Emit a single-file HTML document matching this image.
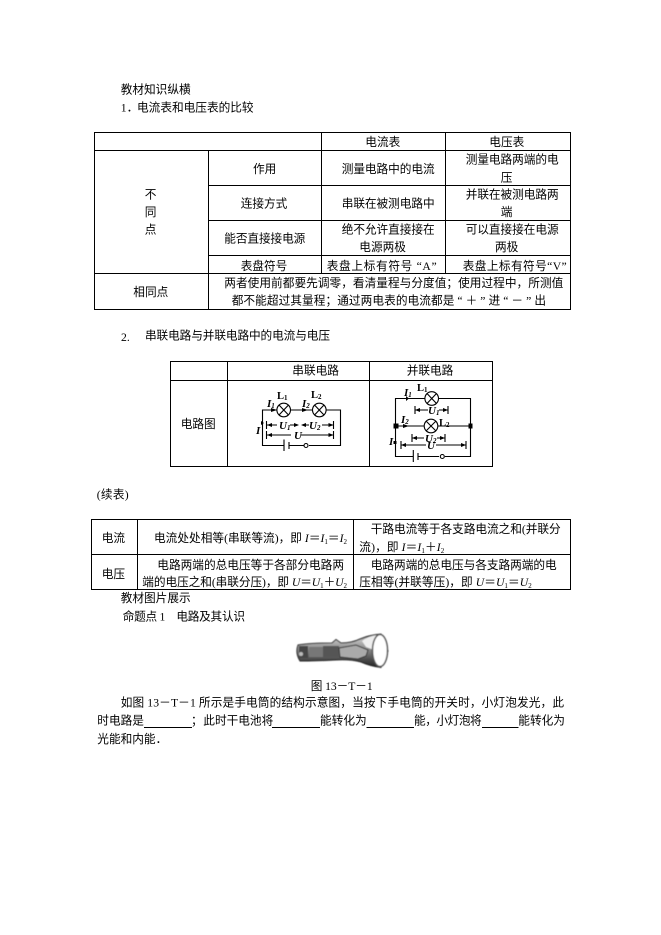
<!DOCTYPE html>
<html lang="zh">
<head>
<meta charset="utf-8">
<style>
html,body{margin:0;padding:0;background:#fff}
svg{display:block}
text{font-family:"Liberation Serif","WenQuanYi Zen Hei","Noto Sans CJK SC",sans-serif;font-size:11.67px;fill:#000}
.i{font-style:italic}
.s{font-size:7px}
.b{font-weight:bold;font-size:10.5px}
.n{font-size:11px;font-style:italic;font-weight:bold}
.t line,.t rect{stroke:#000;stroke-width:1;fill:none;shape-rendering:crispEdges}
.c line,.c path,.c rect{stroke:#000;stroke-width:1.1;fill:none}
.c circle{stroke:#000;stroke-width:1.1;fill:#fff}
.f{fill:#000}
</style>
</head>
<body>
<svg xmlns="http://www.w3.org/2000/svg" width="661" height="935" viewBox="0 0 661 935">
<defs>
<filter id="bl"><feGaussianBlur stdDeviation="0.55"/></filter>
<linearGradient id="body" x1="0" y1="0" x2="0" y2="1">
<stop offset="0" stop-color="#555"/><stop offset=".2" stop-color="#bbb"/><stop offset=".55" stop-color="#777"/><stop offset=".8" stop-color="#444"/><stop offset="1" stop-color="#222"/>
</linearGradient>
</defs>

<text x="120.7" y="93.5">教材知识纵横</text>
<text x="120.7" y="111.5">1</text><text x="128" y="111.5" font-weight="bold">.</text>
<text x="137" y="111.5">电流表和电压表的比较</text>

<g class="t">
<rect x="94.5" y="132.5" width="476" height="177"/>
<line x1="94" y1="150.5" x2="571" y2="150.5"/>
<line x1="208.5" y1="185.5" x2="571" y2="185.5"/>
<line x1="208.5" y1="220.5" x2="571" y2="220.5"/>
<line x1="208.5" y1="255.5" x2="571" y2="255.5"/>
<line x1="94" y1="273.5" x2="571" y2="273.5"/>
<line x1="208.5" y1="150" x2="208.5" y2="309"/>
<line x1="321.5" y1="132" x2="321.5" y2="273"/>
<line x1="445.5" y1="132" x2="445.5" y2="273"/>
</g>
<text x="365.3" y="146">电流表</text>
<text x="489.3" y="146">电压表</text>
<text x="253" y="173">作用</text>
<text x="341.7" y="173" textLength="93">测量电路中的电流</text>
<text x="465.7" y="163.5" textLength="93">测量电路两端的电</text>
<text x="500.7" y="181.5">压</text>
<text x="144.7" y="198.5">不</text>
<text x="144.7" y="216">同</text>
<text x="144.7" y="233.5">点</text>
<text x="240.7" y="207.5">连接方式</text>
<text x="341.7" y="207.5" textLength="93">串联在被测电路中</text>
<text x="465.7" y="198.5" textLength="93">并联在被测电路两</text>
<text x="500.7" y="216">端</text>
<text x="224.3" y="242.5" textLength="81">能否直接接电源</text>
<text x="341.7" y="233.5" textLength="93">绝不允许直接接在</text>
<text x="359.3" y="251">电源两极</text>
<text x="465.7" y="233.5" textLength="93">可以直接接在电源</text>
<text x="495" y="251">两极</text>
<text x="240.7" y="270">表盘符号</text>
<text x="326.7" y="270" textLength="110">表盘上标有符号 “A”</text>
<text x="462.7" y="270" textLength="104">表盘上标有符号“V”</text>
<text x="133.3" y="296">相同点</text>
<text x="224.3" y="286.8" textLength="339">两者使用前都要先调零，看清量程与分度值；使用过程中，所测值</text>
<text x="231.7" y="304.5" textLength="314.3">都不能超过其量程；通过两电表的电流都是 “ ＋ ” 进 “ － ” 出</text>

<text x="121" y="341">2.</text>
<text x="145" y="339.5" textLength="185">串联电路与并联电路中的电流与电压</text>

<g class="t">
<rect x="170.5" y="361.5" width="322" height="105"/>
<line x1="170" y1="380.5" x2="493" y2="380.5"/>
<line x1="227.5" y1="361" x2="227.5" y2="467"/>
<line x1="369.5" y1="361" x2="369.5" y2="467"/>
</g>
<text x="292.3" y="374.5">串联电路</text>
<text x="406.7" y="374.5">并联电路</text>
<text x="180.7" y="428">电路图</text>

<!-- series circuit -->
<g class="c">
<path d="M277 410H262.5V445.5H284M289 445.5H304M309 445.5H340.5V410H326M290.5 410H312.5"/>
<line x1="284" y1="439.5" x2="284" y2="451"/>
<line x1="289" y1="442" x2="289" y2="449"/>
<circle cx="283.7" cy="410" r="6.8"/>
<line x1="279" y1="405" x2="288.5" y2="415"/><line x1="288.5" y1="405" x2="279" y2="415"/>
<circle cx="319.3" cy="410" r="6.8"/>
<line x1="314.5" y1="405" x2="324" y2="415"/><line x1="324" y1="405" x2="314.5" y2="415"/>
<circle cx="306" cy="445.5" r="2"/>
<path d="M266.5 421V429M333.5 421V429M266.500 431V439M333.500 431V439"/>
<path d="M266.500 425H277M290 425H298M302 425H309M322 425H333.500M266.500 435H291M301 435H333.500"/>
</g>
<path class="f" d="M271 408l6 2-6 2zM302 408l6 2-6 2zM267 425l5-2v4zM299 425l-5-2v4zM301 425l5-2v4zM333.500 425l-5-2v4zM267 435l5-2v4zM333.500 435l-5-2v4zM261 421l3 2-3 2z"/>
<text class="n" x="267" y="407">I<tspan class="s" dy="1">1</tspan></text>
<text class="b" x="277" y="399">L<tspan class="s" dy="1">1</tspan></text>
<text class="n" x="302" y="407">I<tspan class="s" dy="1">2</tspan></text>
<text class="b" x="311" y="398">L<tspan class="s" dy="1">2</tspan></text>
<text class="n" x="279" y="429">U<tspan class="s" dy="1">1</tspan></text>
<text class="n" x="309" y="429">U<tspan class="s" dy="1">2</tspan></text>
<text class="n" x="294" y="439">U</text>
<text class="n" x="256" y="434">I</text>

<!-- parallel circuit -->
<g class="c">
<path d="M425 398.500H395.500V456.500H413M418 456.500H439M445 456.500H470.500V398.500H438.500M395.500 426H424M438 426H470.500"/>
<line x1="413.300" y1="450" x2="413.300" y2="462"/>
<line x1="418" y1="453" x2="418" y2="460"/>
<circle cx="431.700" cy="398.500" r="6.800"/>
<line x1="427" y1="393.500" x2="436.500" y2="403.500"/><line x1="436.500" y1="393.500" x2="427" y2="403.500"/>
<circle cx="431" cy="426" r="6.800"/>
<line x1="426" y1="421" x2="436" y2="431"/><line x1="436" y1="421" x2="426" y2="431"/>
<circle cx="442.300" cy="456.500" r="2"/>
<path d="M415 406V414M448 406V414M412 434V442M445 434V442M401 441V449M466 441V449"/>
<path d="M415 410H428M439 410H448M412 438H424M437 438H445M401 445H426M436 445H466"/>
</g>
<path class="f" d="M406 396l3 2.500-3 2.500zM403 424l6 2-6 2zM415 410l5-2v4zM448 410l-5-2v4zM412 438l5-2v4zM445 438l-5-2v4zM401 445l5-2v4zM466 445l-5-2v4zM393.500 423.500h5v5h-5zM468.500 423.500h4v5h-4zM393.500 441h3v3h-3z"/>
<text class="n" x="404" y="396">I<tspan class="s" dy="1">1</tspan></text>
<text class="b" x="417" y="391">L<tspan class="s" dy="1">1</tspan></text>
<text class="n" x="401" y="423">I<tspan class="s" dy="1">2</tspan></text>
<text class="b" x="439" y="426">L<tspan class="s" dy="1">2</tspan></text>
<text class="n" x="428" y="414">U<tspan class="s" dy="1">1</tspan></text>
<text class="n" x="425" y="442">U<tspan class="s" dy="1">2</tspan></text>
<text class="n" x="427" y="449">U</text>
<text class="n" x="389" y="445">I</text>

<text x="96.700" y="498.500" textLength="32">(续表)</text>

<g class="t">
<rect x="91.500" y="519.500" width="479" height="70"/>
<line x1="91" y1="554.500" x2="571" y2="554.500"/>
<line x1="137.500" y1="519" x2="137.500" y2="590"/>
<line x1="353.500" y1="519" x2="353.500" y2="590"/>
</g>
<text x="101.700" y="542">电流</text>
<text x="154" y="542" textLength="193">电流处处相等(串联等流)，即 <tspan class="i">I</tspan>＝<tspan class="i">I</tspan><tspan class="s" dy="2">1</tspan><tspan dy="-2">＝</tspan><tspan class="i">I</tspan><tspan class="s" dy="2">2</tspan></text>
<text x="370.700" y="533" textLength="190">干路电流等于各支路电流之和(并联分</text>
<text x="359.300" y="551" textLength="85">流)，即 <tspan class="i">I</tspan>＝<tspan class="i">I</tspan><tspan class="s" dy="2">1</tspan><tspan dy="-2">＋</tspan><tspan class="i">I</tspan><tspan class="s" dy="2">2</tspan></text>
<text x="101.700" y="578">电压</text>
<text x="157.300" y="569" textLength="186.700">电路两端的总电压等于各部分电路两</text>
<text x="142.300" y="586" textLength="204.700">端的电压之和(串联分压)，即 <tspan class="i">U</tspan>＝<tspan class="i">U</tspan><tspan class="s" dy="2">1</tspan><tspan dy="-2">＋</tspan><tspan class="i">U</tspan><tspan class="s" dy="2">2</tspan></text>
<text x="370.700" y="569" textLength="186">电路两端的总电压与各支路两端的电</text>
<text x="359.300" y="586" textLength="172.400">压相等(并联等压)，即 <tspan class="i">U</tspan>＝<tspan class="i">U</tspan><tspan class="s" dy="2">1</tspan><tspan dy="-2">＝</tspan><tspan class="i">U</tspan><tspan class="s" dy="2">2</tspan></text>

<text x="120.700" y="602">教材图片展示</text>
<text x="122.700" y="620.500" textLength="122.300">命题点 1　电路及其认识</text>

<!-- flashlight -->
<g filter="url(#bl)">
<path d="M298 645Q310 643 332 643L336 639.500L341 643Q352 643 360 639Q369 635 381 634L388 651L381 667.500Q370 666 361 662Q350 659 335 660Q315 661 300 661Q295 653 298 645Z" fill="url(#body)" stroke="#222" stroke-width="1"/>
<rect x="299" y="646" width="9" height="12" fill="#444"/>
<circle cx="301" cy="654" r="2" fill="#bbb"/>
<rect x="309" y="647" width="14" height="10" fill="#777"/>
<rect x="323" y="646" width="16" height="11" fill="#555"/>
<path d="M339 648L356 645L368 650L366 656L358 659L340 657Z" fill="#aaa" stroke="#333" stroke-width="1"/>
<path d="M362 641Q368 636 378 635L374 650L366 647Z" fill="#eee"/>
<ellipse cx="380" cy="650.500" rx="7.500" ry="16" fill="#fff" stroke="#555" stroke-width="1.500"/>
</g>

<text x="310.700" y="690" textLength="62">图 13－T－1</text>
<text x="120.700" y="706.500" textLength="443.300">如图 13－T－1 所示是手电筒的结构示意图，当按下手电筒的开关时，小灯泡发光，此</text>
<text x="97.300" y="724.500">时电路是</text>
<text x="191" y="724.500">；</text>
<text x="203.300" y="724.500">此时干电池将</text>
<text x="320" y="724.500">能转化为</text>
<text x="414" y="724.500" textLength="67.700">能，小灯泡将</text>
<text x="518.300" y="724.500">能转化为</text>
<text x="97.300" y="743">光能和内能．</text>
<g class="t">
<line x1="144" y1="727.500" x2="192" y2="727.500"/>
<line x1="272" y1="727.500" x2="320" y2="727.500"/>
<line x1="366.500" y1="727.500" x2="414" y2="727.500"/>
<line x1="482" y1="727.500" x2="518.500" y2="727.500"/>
</g>
</svg>
</body>
</html>
